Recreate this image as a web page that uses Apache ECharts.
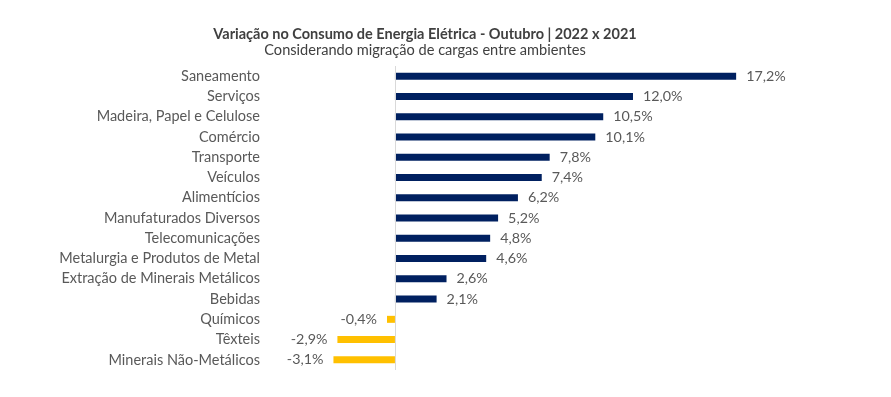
<!DOCTYPE html>
<html>
<head>
<meta charset="utf-8">
<script src="https://cdn.jsdelivr.net/npm/echarts@6/dist/echarts.min.js"></script>
<style>
  html, body { margin: 0; padding: 0; background: #fff; }
  #main { width: 891px; height: 397px; }
</style>
</head>
<body>
<div id="main"></div>
<script>
// setores e variação (%) out/2022 x out/2021
const setores = ['Saneamento', 'Serviços', 'Madeira, Papel e Celulose', 'Comércio', 'Transporte',
    'Veículos', 'Alimentícios', 'Manufaturados Diversos', 'Telecomunicações',
    'Metalurgia e Produtos de Metal', 'Extração de Minerais Metálicos', 'Bebidas',
    'Químicos', 'Têxteis', 'Minerais Não-Metálicos'];
const variacao = [17.2, 12.0, 10.5, 10.1, 7.8, 7.4, 6.2, 5.2, 4.8, 4.6, 2.6, 2.1, -0.4, -2.9, -3.1];

const fonte = 'Lato, "Open Sans", sans-serif';
const chart = echarts.init(document.getElementById('main'));

const option = {
    title: {
        text: 'Variação no Consumo de Energia Elétrica - Outubro | 2022 x 2021',
        subtext: 'Considerando migração de cargas entre ambientes',
        left: 420,
        textAlign: 'center',
        top: 22,
        itemGap: 1,
        textStyle: { fontFamily: fonte, fontSize: 14.5, fontWeight: 'bold', color: '#404040' },
        subtextStyle: { fontFamily: fonte, fontSize: 14.6, color: '#404040' }
    },
    grid: { left: 266, right: 16, top: 66, height: 304 },
    xAxis: {
        type: 'value',
        min: -6.5,
        max: 24.2,
        show: false
    },
    yAxis: {
        type: 'category',
        data: setores,
        inverse: true,
        axisLine: { show: false, onZero: false },
        axisTick: { show: false },
        axisLabel: { color: '#595959', fontFamily: fonte, fontSize: 14.5, margin: 6 }
    },
    series: [{
        type: 'bar',
        barWidth: 7,
        data: variacao.map(v => ({
            value: v,
            itemStyle: { color: v < 0 ? '#FFC000' : '#002060' },
            label: { position: v < 0 ? 'left' : 'right' }
        })),
        label: {
            show: true,
            distance: 10,
            color: '#595959',
            fontFamily: fonte,
            fontSize: 14.3,
            formatter: p => p.value.toFixed(1).replace('.', ',') + '%'
        },
        markLine: {
            silent: true,
            symbol: 'none',
            label: { show: false },
            lineStyle: { color: '#d9d9d9', type: 'solid', width: 1 },
            data: [{ xAxis: 0 }]
        }
    }]
};

chart.setOption(option);
</script>
</body>
</html>
